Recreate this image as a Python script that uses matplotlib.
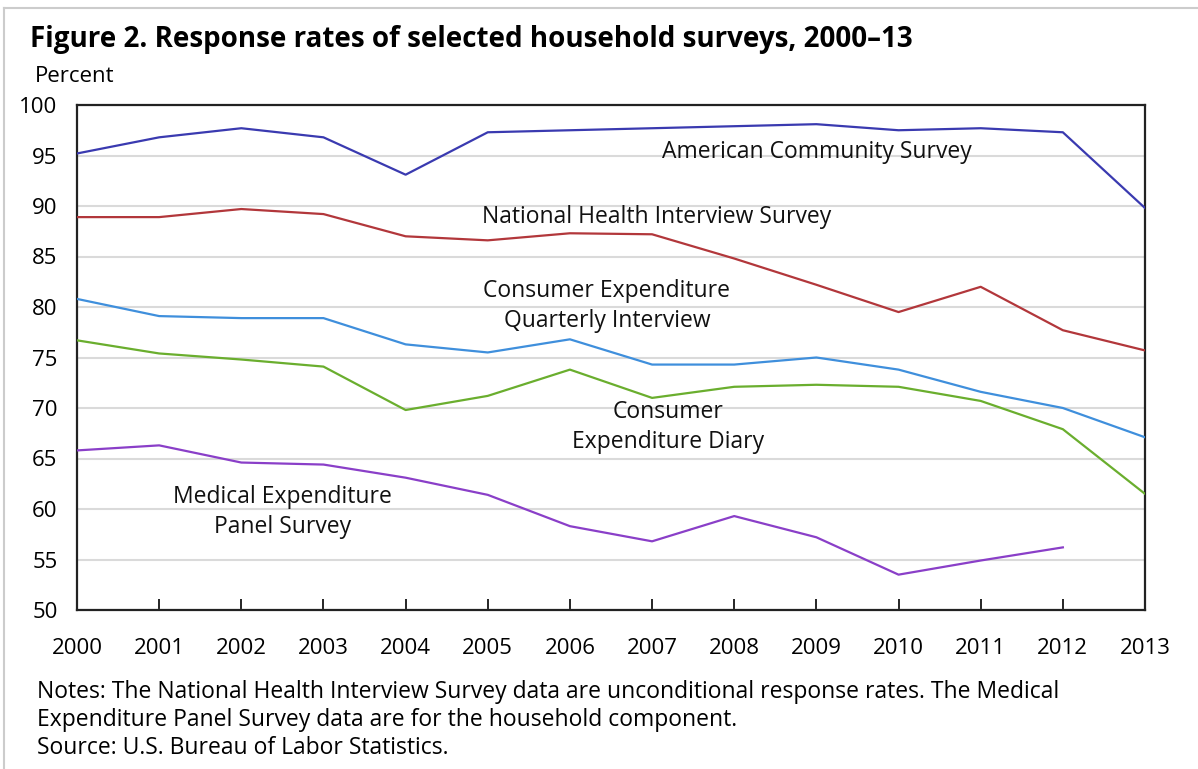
import matplotlib
matplotlib.use("Agg")
import matplotlib.pyplot as plt
from matplotlib.lines import Line2D

plt.rcParams['font.family'] = ['Open Sans', 'DejaVu Sans']

# Data (percent)
years = list(range(2000, 2014))
acs = [95.2, 96.8, 97.7, 96.8, 93.1, 97.3, 97.5, 97.7, 97.9, 98.1, 97.5, 97.7, 97.3, 89.8]
nhis = [88.9, 88.9, 89.7, 89.2, 87.0, 86.6, 87.3, 87.2, 84.8, 82.2, 79.5, 82.0, 77.7, 75.7]
ce_quarterly = [80.8, 79.1, 78.9, 78.9, 76.3, 75.5, 76.8, 74.3, 74.3, 75.0, 73.8, 71.6, 70.0, 67.1]
ce_diary = [76.7, 75.4, 74.8, 74.1, 69.8, 71.2, 73.8, 71.0, 72.1, 72.3, 72.1, 70.7, 67.9, 61.5]
meps_years = list(range(2000, 2013))
meps = [65.8, 66.3, 64.6, 64.4, 63.1, 61.4, 58.3, 56.8, 59.3, 57.2, 53.5, 54.9, 56.2]

series = [
    (years, acs, '#3a3ab0', 'American Community Survey', 2009.0, 95.3),
    (years, nhis, '#b2373b', 'National Health Interview Survey', 2007.05, 88.9),
    (years, ce_quarterly, '#3f8fdc', 'Consumer Expenditure\nQuarterly Interview', 2006.45, 80.1),
    (years, ce_diary, '#6aae2e', 'Consumer\nExpenditure Diary', 2007.2, 68.1),
    (meps_years, meps, '#8a3fc8', 'Medical Expenditure\nPanel Survey', 2002.5, 59.7),
]

fig = plt.figure(figsize=(11.98, 7.69), dpi=100)
ax = fig.add_axes([77 / 1198, 1 - 610 / 769, (1145 - 77) / 1198, (610 - 105) / 769])

for yrs, vals, color, label, lx, ly in series:
    ax.plot(yrs, vals, color=color, linewidth=1.6, zorder=3)
    ax.text(lx, ly, label, ha='center', va='center', fontsize=16.5, color='#111111',
            linespacing=1.3, zorder=4)

ax.set_xlim(2000, 2013)
ax.set_ylim(50, 100)
ax.set_yticks(range(50, 101, 5))
ax.set_xticks(years)
ax.yaxis.grid(True, color='#dadada', linewidth=1.5, zorder=0)
ax.set_axisbelow(True)
for side in ax.spines.values():
    side.set_linewidth(1.6)
    side.set_color('#222222')
ax.tick_params(axis='y', length=0, pad=14, labelsize=16)
ax.tick_params(axis='x', direction='in', length=8, width=1.2, pad=20, labelsize=16)
for lab in ax.get_yticklabels():
    lab.set_horizontalalignment('right')

fig.text(30 / 1198, 1 - 40 / 769, 'Figure 2. Response rates of selected household surveys, 2000\u201313',
         fontsize=20, fontweight='bold', ha='left', va='center')
fig.text(35 / 1198, 1 - 77 / 769, 'Percent', fontsize=16, ha='left', va='center')

notes = ['Notes: The National Health Interview Survey data are unconditional response rates. The Medical',
         'Expenditure Panel Survey data are for the household component.',
         'Source: U.S. Bureau of Labor Statistics.']
for i, line in enumerate(notes):
    fig.text(37 / 1198, 1 - (692 + 28 * i) / 769, line, fontsize=16.5, ha='left', va='center')

# light border at top and left of the image
fig.add_artist(Line2D([4 / 1198, 4 / 1198], [0, 1 - 8 / 769], transform=fig.transFigure,
                      color='#cccccc', linewidth=1.5))
fig.add_artist(Line2D([4 / 1198, 1], [1 - 8 / 769, 1 - 8 / 769], transform=fig.transFigure,
                      color='#cccccc', linewidth=1.5))

fig.savefig('out.png', dpi=100)
